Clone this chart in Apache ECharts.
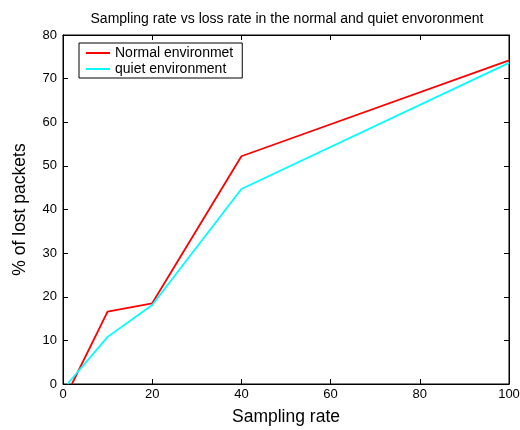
<!DOCTYPE html>
<html>
<head>
<meta charset="utf-8">
<script src="https://cdn.jsdelivr.net/npm/echarts@6/dist/echarts.min.js"></script>
<style>
html, body { margin: 0; padding: 0; background: #fff; }
#chart { width: 520px; height: 430px; }
</style>
</head>
<body>
<div id="chart"></div>
<script>
// data
var rateNormal = [2, 10, 20, 40, 100];
var lossNormal = [0, 16.6, 18.5, 52.2, 74.2];
var rateQuiet = [1, 10, 20, 40, 100];
var lossQuiet = [0, 10.8, 18.1, 44.7, 73.6];
var xTicks = [0, 20, 40, 60, 80, 100];
var yTicks = [0, 10, 20, 30, 40, 50, 60, 70, 80];

function pairs(xs, ys) {
    return xs.map(function (x, i) { return [x, ys[i]]; });
}

var font = 'Liberation Sans, Arial, sans-serif';

function tick() {
    return { show: true, inside: true, length: 5, lineStyle: { color: '#000', width: 1 } };
}
function axLine() {
    return { show: true, onZero: false, lineStyle: { color: '#000', width: 1 } };
}

var myChart = echarts.init(document.getElementById('chart'));
var option = {
    animation: false,
    backgroundColor: '#fff',
    title: {
        text: 'Sampling rate vs loss rate in the normal and quiet envoronment',
        left: 282,
        textAlign: 'center',
        top: 7,
        textStyle: { fontFamily: font, fontSize: 14, fontWeight: 'normal', color: '#000' }
    },
    legend: {
        orient: 'vertical',
        left: 79,
        top: 43,
        itemWidth: 24,
        itemHeight: 2,
        itemGap: 2,
        padding: [3, 9, 2, 7],
        borderColor: '#000',
        borderWidth: 1,
        icon: 'rect',
        textStyle: { fontFamily: font, fontSize: 14, color: '#000' },
        data: ['Normal environmet', 'quiet environment']
    },
    grid: {
        left: 63, right: 11, top: 35, bottom: 46,
        outerBoundsMode: 'none', containLabel: false,
        show: true, borderColor: '#000', borderWidth: 1
    },
    xAxis: [{
        type: 'value',
        min: xTicks[0], max: xTicks[xTicks.length - 1], interval: 20,
        name: 'Sampling rate',
        nameLocation: 'middle',
        nameGap: 24,
        nameTextStyle: { fontFamily: font, fontSize: 17.5, color: '#000' },
        axisLine: axLine(),
        axisTick: tick(),
        axisLabel: { fontFamily: font, fontSize: 13, color: '#000', margin: 4 },
        splitLine: { show: false }
    }, {
        type: 'value', position: 'top',
        min: xTicks[0], max: xTicks[xTicks.length - 1], interval: 20,
        axisLine: axLine(),
        axisTick: tick(),
        axisLabel: { show: false },
        splitLine: { show: false }
    }],
    yAxis: [{
        type: 'value',
        min: yTicks[0], max: yTicks[yTicks.length - 1], interval: 10,
        name: '% of lost packets',
        nameLocation: 'middle',
        nameGap: 34,
        nameTextStyle: { fontFamily: font, fontSize: 17.5, color: '#000' },
        axisLine: axLine(),
        axisTick: tick(),
        axisLabel: { fontFamily: font, fontSize: 13, color: '#000', margin: 6 },
        splitLine: { show: false }
    }, {
        type: 'value', position: 'right',
        min: yTicks[0], max: yTicks[yTicks.length - 1], interval: 10,
        axisLine: axLine(),
        axisTick: tick(),
        axisLabel: { show: false },
        splitLine: { show: false }
    }],
    series: [{
        name: 'Normal environmet',
        type: 'line',
        symbol: 'none',
        color: '#ff0000',
        lineStyle: { color: '#ff0000', width: 1.8 },
        data: pairs(rateNormal, lossNormal)
    }, {
        name: 'quiet environment',
        type: 'line',
        symbol: 'none',
        color: '#00ffff',
        lineStyle: { color: '#00ffff', width: 1.8 },
        data: pairs(rateQuiet, lossQuiet)
    }]
};
myChart.setOption(option);
</script>
</body>
</html>
